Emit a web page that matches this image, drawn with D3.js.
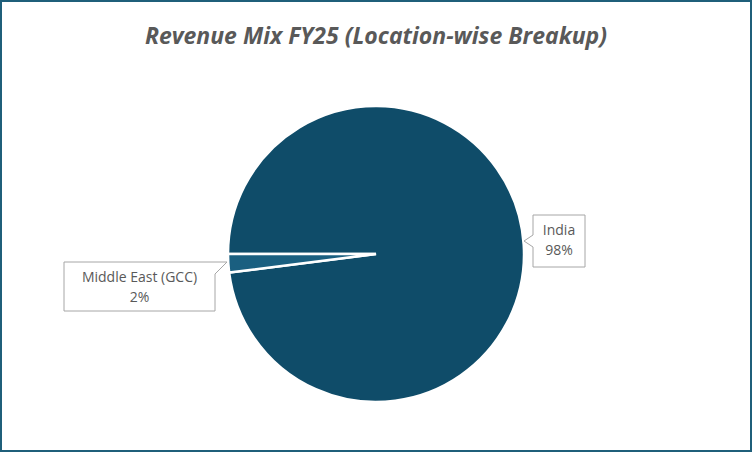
<!DOCTYPE html>
<html><head><meta charset="utf-8">
<script src="https://cdn.jsdelivr.net/npm/d3@7"></script>
<style>body{margin:0;background:#fff}</style></head>
<body><svg id="c" width="752" height="452"></svg>
<script>
const categories = ["India", "Middle East (GCC)"];
const values = [98, 2];
const labels = ["98%", "2%"];
const colors = ["#0f4c69", "#1a5f80"];

const svg = d3.select("#c");
svg.append("rect").attr("x",1).attr("y",1).attr("width",750).attr("height",450)
  .attr("fill","#fff").attr("stroke","#1f5f7a").attr("stroke-width",2);
svg.append("text").attr("x",376).attr("y",44).attr("text-anchor","middle")
  .attr("font-family","Open Sans, Noto Sans, sans-serif").attr("font-size",23)
  .attr("font-weight","bold").attr("font-style","italic").attr("fill","#595959")
  .text("Revenue Mix FY25 (Location-wise Breakup)");

const cx = 376, cy = 254, r = 148;
const pie = d3.pie().sort(null).startAngle(-Math.PI/2).endAngle(3*Math.PI/2);
const arcs = pie(values);
const arc = d3.arc().innerRadius(0).outerRadius(r);
const g = svg.append("g").attr("transform",`translate(${cx},${cy})`);
g.selectAll("path").data(arcs).join("path").attr("d",arc)
  .attr("fill",(d,i)=>colors[i]).attr("stroke","#fff").attr("stroke-width",2.5);

// callouts
const boxes = [
  {x:533, y:215, w:52, h:52, px:524, py:241, side:"left"},
  {x:64, y:262, w:151, h:49, px:227, py:262, side:"right"}
];
boxes.forEach((b,i)=>{
  let path;
  if (b.side==="left") {
    path = `M${b.x},${b.y} H${b.x+b.w} V${b.y+b.h} H${b.x} V${b.y+32} L${b.px},${b.py} L${b.x},${b.y+20} Z`;
  } else {
    path = `M${b.x},${b.y} H${b.x+b.w-20} L${b.px},${b.py} L${b.x+b.w},${b.y+12} V${b.y+b.h} H${b.x} Z`;
  }
  svg.append("path").attr("d",path).attr("fill","#fff").attr("stroke","#a6a6a6").attr("stroke-width",1);
  const t = svg.append("text").attr("text-anchor","middle")
    .attr("font-family","Open Sans, Noto Sans, sans-serif").attr("font-size",14).attr("fill","#595959");
  t.append("tspan").attr("x",b.x+b.w/2).attr("y",b.y+20).text(categories[i]);
  t.append("tspan").attr("x",b.x+b.w/2).attr("y",b.y+40).text(labels[i]);
});
</script></body></html>
